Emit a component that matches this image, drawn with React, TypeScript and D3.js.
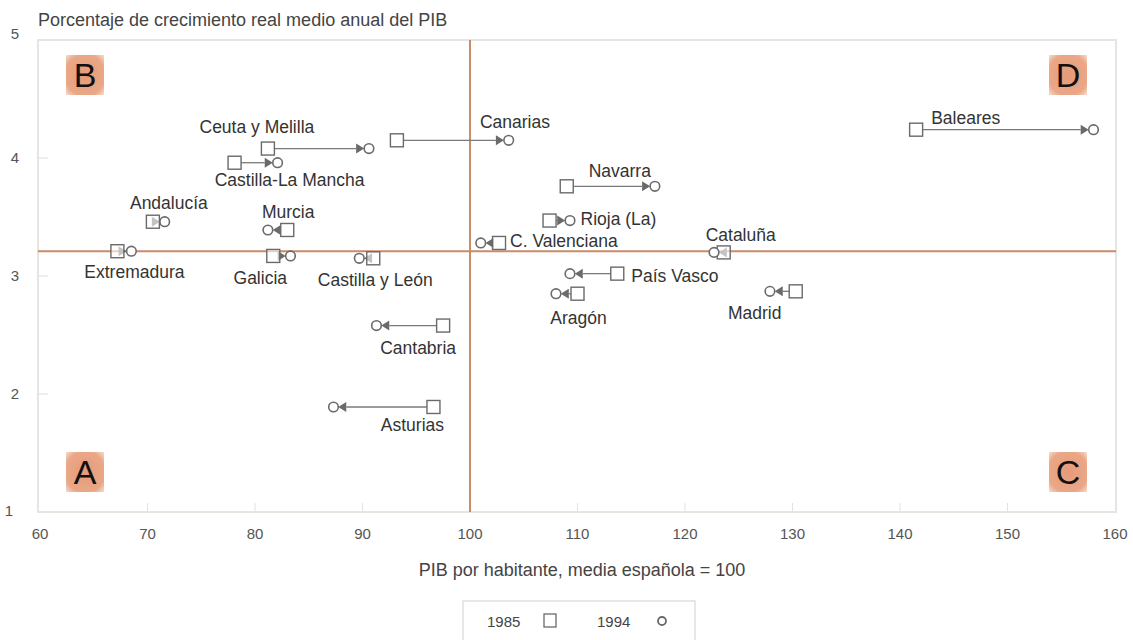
import * as d3 from 'd3'

const regions = [
  'Ceuta y Melilla', 'Canarias', 'Castilla-La Mancha', 'Baleares', 'Navarra', 'Rioja (La)',
  'Andalucía', 'Murcia', 'Extremadura', 'Galicia', 'Castilla y León', 'Cantabria',
  'Asturias', 'C. Valenciana', 'Cataluña', 'País Vasco', 'Aragón', 'Madrid',
]
// PIB por habitante (media española = 100)
const pib1985 = [81.2, 93.2, 78.1, 141.5, 109.0, 107.4, 70.5, 83.0, 67.2, 81.7, 91.0, 97.5, 96.6, 102.7, 123.6, 113.7, 110.0, 130.3]
const pib1994 = [90.6, 103.6, 82.1, 158.0, 117.2, 109.3, 71.6, 81.2, 68.5, 83.3, 89.7, 91.3, 87.3, 101.0, 122.7, 109.3, 108.0, 127.9]
// crecimiento real medio anual del PIB (%)
const growth = [4.08, 4.15, 3.96, 4.24, 3.76, 3.47, 3.46, 3.39, 3.21, 3.17, 3.15, 2.58, 1.89, 3.28, 3.2, 3.02, 2.85, 2.87]

const xTicks = [60, 70, 80, 90, 100, 110, 120, 130, 140, 150, 160]
const yTicks = [1, 2, 3, 4, 5]
const spainPib = 100
const spainGrowth = 3.21
const quadrants = [
  { letter: 'A', corner: 'bl' },
  { letter: 'B', corner: 'tl' },
  { letter: 'C', corner: 'br' },
  { letter: 'D', corner: 'tr' },
]

// label placement relative to the 1985 marker: [anchor, dx, dy]
const labelPlace: [string, number, number][] = [
  ['middle', -11, -22], ['middle', 118, -18], ['middle', 55, 17], ['start', 15, -12],
  ['middle', 53, -15], ['start', 31, -2], ['middle', 16, -19], ['middle', 1, -18],
  ['middle', 17, 21], ['middle', -13, 22], ['middle', 2, 22], ['middle', -25, 22],
  ['middle', -21, 18], ['start', 11, -2], ['middle', 17, -17], ['start', 14, 2],
  ['middle', 1, 24], ['middle', -41, 22],
]

const W = 1133
const H = 640
const M = { left: 40, right: 1115, top: 40, bottom: 512 }
const FONT = '"Liberation Sans", Arial, Helvetica, sans-serif'
const MARK = '#6a6a6a'
const REF = '#c98c68'

export default function App() {
  const x = d3.scaleLinear().domain([60, 160]).range([M.left, M.right])
  const y = d3.scaleLinear().domain([1, 5]).range([M.bottom, M.top])
  const sq = 6.5
  const r = 4.8

  const quadBox = (corner: string) => {
    const bx = corner.endsWith('l') ? 66 : 1049
    const by = corner.startsWith('t') ? 55 : 452
    return { bx, by }
  }

  return (
    <svg width={W} height={H} style={{ position: 'absolute', left: 0, top: 0, background: '#fff' }} fontFamily={FONT}>
      <defs>
        <radialGradient id="qg" cx="50%" cy="50%" r="70%">
          <stop offset="0%" stopColor="#e69a78" />
          <stop offset="75%" stopColor="#eaa888" />
          <stop offset="100%" stopColor="#f6dccd" />
        </radialGradient>
      </defs>

      {/* frame */}
      <rect x={M.left - 2} y={M.top} width={M.right - M.left + 3} height={M.bottom - M.top}
        fill="none" stroke="#e6e6e0" strokeWidth={2} />

      {/* tick marks */}
      {xTicks.slice(1, -1).map(t => (
        <line key={'xt' + t} x1={x(t)} x2={x(t)} y1={M.bottom} y2={M.bottom - 9} stroke="#e2e2e2" />
      ))}
      {yTicks.slice(1, -1).map(t => (
        <line key={'yt' + t} x1={M.left - 2} x2={M.left + 8} y1={y(t)} y2={y(t)} stroke="#dedede" />
      ))}

      {/* tick labels */}
      {xTicks.map(t => (
        <text key={'xl' + t} x={x(t)} y={539} textAnchor="middle" fontSize={15} fill="#555">{t}</text>
      ))}
      {yTicks.map(t => (
        <text key={'yl' + t} x={t === 1 ? 9 : 15} y={y(t) + (t === 1 ? 4 : t === 5 ? -1 : 5)} textAnchor="middle" fontSize={15} fill="#555">{t}</text>
      ))}

      <text x={38} y={26} fontSize={18} fill="#444">Porcentaje de crecimiento real medio anual del PIB</text>
      <text x={582} y={576} textAnchor="middle" fontSize={18} fill="#444">PIB por habitante, media española = 100</text>

      {/* reference lines */}
      <line x1={M.left - 2} x2={M.right + 1} y1={y(spainGrowth)} y2={y(spainGrowth)} stroke={REF} strokeWidth={2} />
      <line x1={x(spainPib)} x2={x(spainPib)} y1={M.top} y2={M.bottom} stroke={REF} strokeWidth={2} />

      {/* quadrant letters */}
      {quadrants.map(q => {
        const { bx, by } = quadBox(q.corner)
        return (
          <g key={q.letter}>
            <rect x={bx} y={by} width={38} height={40} fill="url(#qg)" />
            <text x={bx + 19} y={by + 32} textAnchor="middle" fontSize={34} fill="#111">{q.letter}</text>
          </g>
        )
      })}

      {/* region arrows */}
      {regions.map((name, i) => {
        const x0 = x(pib1985[i])
        const x1 = x(pib1994[i])
        const yy = y(growth[i])
        const dir = x1 >= x0 ? 1 : -1
        const lineStart = x0 + dir * sq
        const tip = x1 - dir * r
        const base = tip - dir * 8
        const [anchor, dx, dy] = labelPlace[i]
        return (
          <g key={name}>
            {dir * (base - lineStart) > 1 && (
              <line x1={lineStart} x2={base} y1={yy} y2={yy} stroke="#7a7a7a" strokeWidth={1.3} />
            )}
            <path d={`M${tip},${yy} L${base},${yy - 5} L${base},${yy + 5} Z`} fill={MARK} />
            <rect x={x0 - sq} y={yy - sq} width={sq * 2} height={sq * 2} fill="#fff" fillOpacity={0.6} stroke={MARK} strokeWidth={1.4} />
            <circle cx={x1} cy={yy} r={r} fill="#fff" stroke={MARK} strokeWidth={1.6} />
            <text x={x0 + dx} y={yy + dy} textAnchor={anchor} dominantBaseline="central" fontSize={17.5} fill="#333">{name}</text>
          </g>
        )
      })}

      {/* legend */}
      <rect x={463} y={601} width={232} height={42} fill="#fff" stroke="#e0e0e0" strokeWidth={1.5} />
      <text x={487} y={627} fontSize={15} fill="#444">1985</text>
      <rect x={544} y={614} width={12} height={13} fill="#fff" stroke={MARK} strokeWidth={1.3} />
      <text x={597} y={627} fontSize={15} fill="#444">1994</text>
      <circle cx={662} cy={621} r={4} fill="#fff" stroke={MARK} strokeWidth={1.8} />
    </svg>
  )
}
